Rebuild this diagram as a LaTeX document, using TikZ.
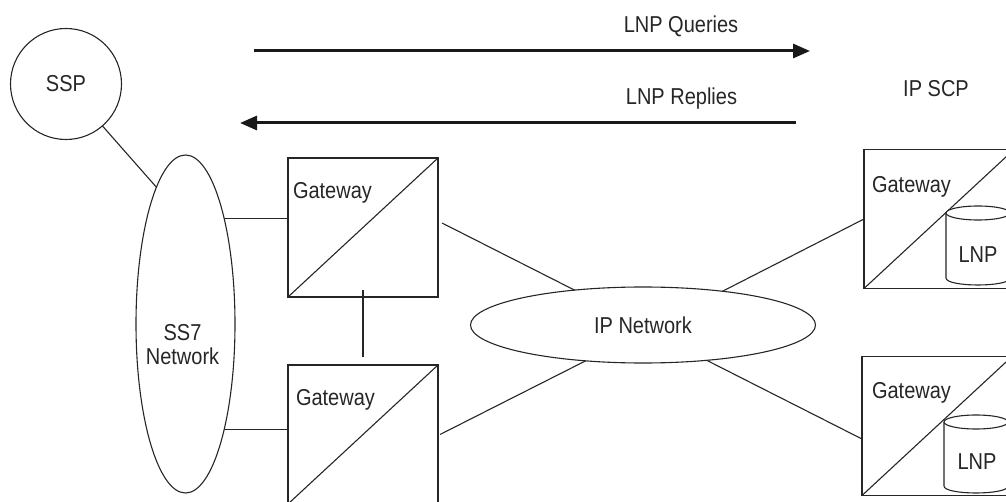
\documentclass[tikz,border=0pt]{standalone}
\usepackage{fontspec}
\setmainfont{Liberation Sans}
\usetikzlibrary{shapes.geometric,arrows.meta}
\newcommand\stx[1]{\scalebox{1}[1.15]{#1}}
\newcommand\lnpdb[3]{% xleft, ytop, ybot (ellipse centres)
  \draw[link, fill=white] (#1,#2) -- (#1,#3) .. controls (#1,#3+9.3) and (#1+64,#3+9.3) .. (#1+64,#3) -- (#1+64,#2);
  \draw[link, fill=white] (#1+32,#2) ellipse [x radius=32, y radius=7];
}
\begin{document}
\begin{tikzpicture}[x=1pt,y=-1pt,
  every node/.style={inner sep=0pt, outer sep=0pt},
  txt/.style={font=\fontsize{20}{24}\selectfont, text=black!85},
  link/.style={line width=1.1pt, draw=black!85},
  gw/.style={link, rectangle, minimum width=150pt, minimum height=139pt},
  flow/.style={line width=3pt, draw=black!90, -{Triangle[length=17pt,width=14pt]}}]
\useasboundingbox (0,0) rectangle (1006,502);
\clip (0,0) rectangle (1006,502);

% SSP and SS7
\node[link, circle, minimum size=111pt, txt] (ssp) at (66,84) {\stx{SSP}};
\node[link, ellipse, minimum width=99pt, minimum height=338pt] (ss7) at (185.5,324) {};
\node[txt, align=center] (ss7t) at (182.5,345) {\stx{SS7}\\\stx{Network}};

% gateways
\node[gw] (g1) at (363,227.5) {};
\node[gw] (g2) at (363,434.5) {};
\node[gw] (g3) at (939,219) {};
\node[gw] (g4) at (937,426) {};
\foreach \g in {g1,g2,g3,g4} \draw[link] (\g.south west) -- (\g.north east);
\node[txt, anchor=west] (g1l) at ([shift={(5pt,-35pt)}]g1.north west) {\stx{Gateway}};
\node[txt, anchor=west] (g2l) at ([shift={(8pt,-35pt)}]g2.north west) {\stx{Gateway}};
\node[txt, anchor=west] (g3l) at ([shift={(8pt,-37pt)}]g3.north west) {\stx{Gateway}};
\node[txt, anchor=west] (g4l) at ([shift={(10pt,-36pt)}]g4.north west) {\stx{Gateway}};

% LNP databases
\lnpdb{946}{213}{278}
\node[txt] (lnp1) at (978,255) {\stx{LNP}};
\lnpdb{944}{422}{486}
\node[txt] (lnp2) at (977,462) {\stx{LNP}};

% IP network
\node[link, ellipse, minimum width=345pt, minimum height=76pt, txt] (ip) at (643,325) {\stx{IP Network}};

% connectors
\draw[link] (ssp.-49) -- (ss7.102);
\draw[link] (ss7.70) -- (ss7.70 -| g1.west);
\draw[link] (ss7.-70) -- (ss7.-70 -| g2.west);
\draw[link] ([yshift=7pt]g1.south) -- ([yshift=8pt]g2.north);
\draw[link] ([shift={(4pt,4.5pt)}]g1.east) -- (ip.153);
\draw[link] ([xshift=2pt]g2.east) -- (ip.212);
\draw[link] (ip.23) -- (g3.west);
\draw[link] (ip.-29) -- ([yshift=-13pt]g4.west);

% message flows
\coordinate (q0) at (254,51);
\coordinate (q1) at (810,51);
\coordinate (r0) at (796,123);
\coordinate (r1) at (240,123);
\draw[flow] (q0) -- (q1);
\draw[flow] (r0) -- (r1);
\node[txt] (lq) at (681,26) {\stx{LNP Queries}};
\node[txt] (lr) at (681.5,99) {\stx{LNP Replies}};
\node[txt] (scp) at (936,89) {\stx{IP SCP}};
\end{tikzpicture}
\end{document}
